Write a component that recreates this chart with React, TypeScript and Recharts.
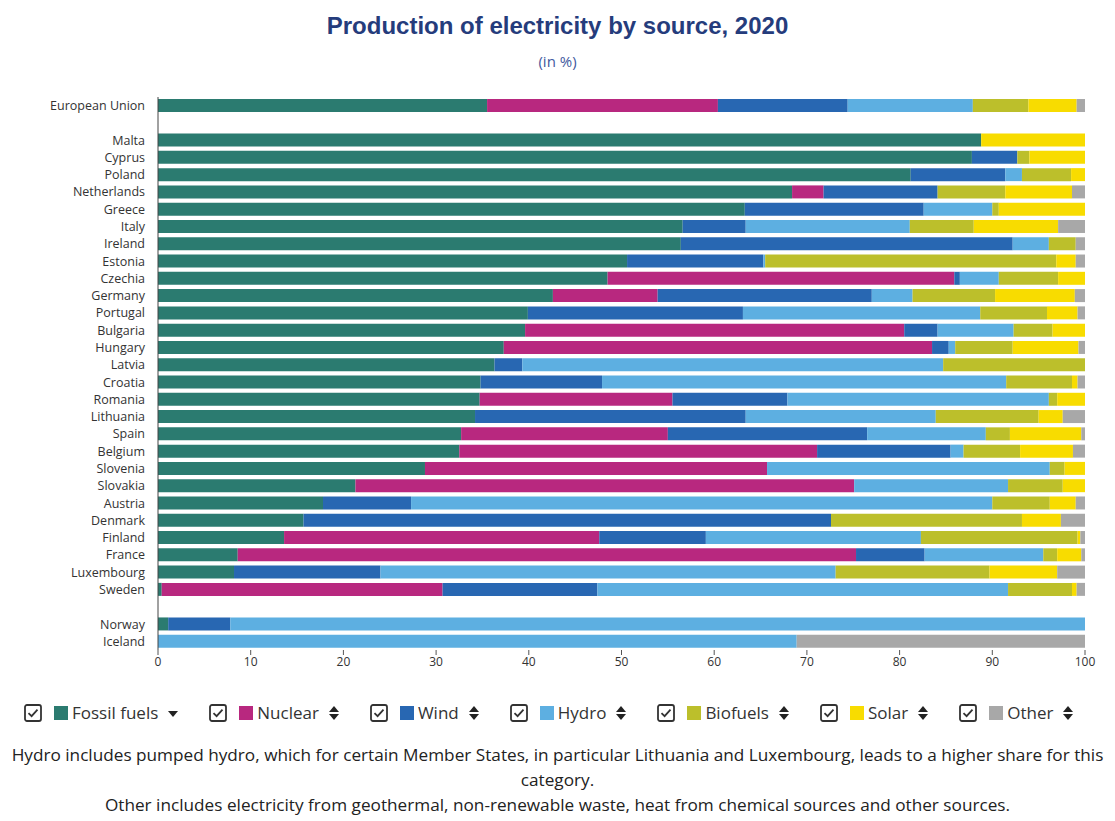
import { Bar, BarChart, XAxis, YAxis } from "recharts";

const countries = [
  "European Union", "", "Malta", "Cyprus", "Poland", "Netherlands", "Greece", "Italy",
  "Ireland", "Estonia", "Czechia", "Germany", "Portugal", "Bulgaria", "Hungary", "Latvia",
  "Croatia", "Romania", "Lithuania", "Spain", "Belgium", "Slovenia", "Slovakia", "Austria",
  "Denmark", "Finland", "France", "Luxembourg", "Sweden", " ", "Norway", "Iceland",
];

// shares in %, same order as countries (null = spacer row)
const fossil = [35.5, null, 88.8, 87.8, 81.2, 68.4, 63.3, 56.6, 56.4, 50.6, 48.5, 42.6, 39.9, 39.6, 37.3, 36.3, 34.8, 34.7, 34.2, 32.7, 32.5, 28.8, 21.3, 17.8, 15.7, 13.6, 8.6, 8.2, 0.4, null, 1.1, 0];
const nuclear = [24.9, null, 0, 0, 0, 3.4, 0, 0, 0, 0, 37.4, 11.3, 0, 40.9, 46.2, 0, 0, 20.8, 0, 22.3, 38.6, 36.9, 53.8, 0, 0, 34.0, 66.7, 0, 30.3, null, 0, 0];
const wind = [14.0, null, 0, 4.9, 10.2, 12.3, 19.3, 6.8, 35.8, 14.7, 0.6, 23.1, 23.2, 3.6, 1.8, 3.0, 13.1, 12.4, 29.2, 21.5, 14.4, 0, 0, 9.5, 56.9, 11.5, 7.4, 15.8, 16.7, null, 6.7, 0];
const hydro = [13.5, null, 0, 0, 1.8, 0, 7.4, 17.7, 3.9, 0.2, 4.2, 4.4, 25.6, 8.2, 0.7, 45.4, 43.6, 28.2, 20.5, 12.8, 1.4, 30.5, 16.6, 62.7, 0, 23.2, 12.8, 49.1, 44.3, null, 92.2, 68.9];
const biofuels = [6.0, null, 0, 1.3, 5.3, 7.3, 0.7, 6.9, 2.9, 31.4, 6.4, 8.9, 7.2, 4.2, 6.2, 15.3, 7.1, 0.9, 11.1, 2.6, 6.1, 1.6, 5.9, 6.2, 20.6, 16.9, 1.5, 16.6, 6.9, null, 0, 0];
const solar = [5.2, null, 11.2, 6.0, 1.5, 7.2, 9.3, 9.1, 0, 2.1, 2.9, 8.6, 3.3, 3.5, 7.1, 0, 0.6, 3.0, 2.6, 7.7, 5.7, 2.2, 2.4, 2.8, 4.2, 0.3, 2.6, 7.3, 0.5, null, 0, 0];
const other = [0.9, null, 0, 0, 0, 1.4, 0, 2.9, 1.0, 1.0, 0, 1.1, 0.8, 0, 0.7, 0, 0.8, 0, 2.4, 0.4, 1.3, 0, 0, 1.0, 2.6, 0.5, 0.4, 3.0, 0.9, null, 0, 31.1];

const xTicks = [0, 10, 20, 30, 40, 50, 60, 70, 80, 90, 100];

const series = [
  { key: "fossil", name: "Fossil fuels", color: "#2b7b70", values: fossil },
  { key: "nuclear", name: "Nuclear", color: "#b8287f", values: nuclear },
  { key: "wind", name: "Wind", color: "#2867b2", values: wind },
  { key: "hydro", name: "Hydro", color: "#5dafe1", values: hydro },
  { key: "biofuels", name: "Biofuels", color: "#bcbf2b", values: biofuels },
  { key: "solar", name: "Solar", color: "#f8dc00", values: solar },
  { key: "other", name: "Other", color: "#a8a8a8", values: other },
];

const rows = countries.map((c, i) => {
  const row: Record<string, string | number | null> = { country: c };
  series.forEach((s) => (row[s.key] = s.values[i]));
  return row;
});

const FONT = "'Open Sans', 'DejaVu Sans', sans-serif";

function CheckBox() {
  return (
    <svg width={18} height={18} viewBox="0 0 18 18" style={{ display: "block" }}>
      <rect x={1} y={1} width={16} height={16} rx={2} fill="#fff" stroke="#333" strokeWidth={1.8} />
      <path d="M4.5 9.2 L7.6 12.2 L13.5 5.6" fill="none" stroke="#333" strokeWidth={1.8} />
    </svg>
  );
}

function SortIcon({ down }: { down?: boolean }) {
  return (
    <svg width={10} height={16} viewBox="0 0 10 16" style={{ display: "block" }}>
      {down ? (
        <path d="M0 6 L10 6 L5 12 Z" fill="#222" />
      ) : (
        <>
          <path d="M0 7 L10 7 L5 1 Z" fill="#222" />
          <path d="M0 9 L10 9 L5 15 Z" fill="#222" />
        </>
      )}
    </svg>
  );
}

function LegendRow() {
  return (
    <div
      style={{
        position: "absolute",
        top: 701,
        left: 24,
        display: "flex",
        alignItems: "center",
        fontFamily: FONT,
        fontSize: 17,
        color: "#333",
      }}
    >
      {series.map((s, i) => (
        <div key={s.key} style={{ display: "flex", alignItems: "center", marginRight: 31 }}>
          <CheckBox />
          <span style={{ width: 14, height: 14, background: s.color, marginLeft: 12, marginRight: 4 }} />
          <span>{s.name}</span>
          <span style={{ marginLeft: 10 }}>
            <SortIcon down={i === 0} />
          </span>
        </div>
      ))}
    </div>
  );
}

export default function App() {
  return (
    <div style={{ position: "absolute", left: 0, top: 0, width: 1115, height: 821, background: "#fff" }}>
      <div
        style={{
          position: "absolute",
          top: 12,
          width: 1115,
          textAlign: "center",
          fontFamily: "'Liberation Sans', Arial, sans-serif",
          fontWeight: 700,
          fontSize: 24,
          color: "#253c7c",
        }}
      >
        Production of electricity by source, 2020
      </div>
      <div
        style={{
          position: "absolute",
          top: 51,
          width: 1115,
          textAlign: "center",
          fontFamily: FONT,
          fontSize: 15,
          color: "#3f5aa0",
        }}
      >
        (in %)
      </div>

      <div style={{ position: "absolute", top: 0, left: 0 }}>
        <BarChart
          width={1115}
          height={682}
          data={rows}
          layout="vertical"
          margin={{ top: 97, right: 30, bottom: 0, left: 0 }}
          barSize={13}
        >
          <XAxis
            type="number"
            domain={[0, 100]}
            ticks={xTicks}
            axisLine={false}
            tickLine={{ stroke: "#555" }}
            tickSize={5}
            height={32}
            tick={{ fontSize: 12, fill: "#333", fontFamily: FONT }}
          />
          <YAxis
            type="category"
            dataKey="country"
            width={158}
            interval={0}
            axisLine={{ stroke: "#444" }}
            tickLine={false}
            tickMargin={7}
            tick={{ fontSize: 12.5, fill: "#333", fontFamily: FONT }}
          />
          {series.map((s) => (
            <Bar key={s.key} dataKey={s.key} name={s.name} stackId="a" fill={s.color} isAnimationActive={false} />
          ))}
        </BarChart>
      </div>

      <LegendRow />

      <div
        style={{
          position: "absolute",
          top: 742,
          left: 0,
          width: 1115,
          textAlign: "center",
          fontFamily: FONT,
          fontSize: 17.2,
          lineHeight: "25px",
          color: "#222",
        }}
      >
        Hydro includes pumped hydro, which for certain Member States, in particular Lithuania and Luxembourg, leads to a higher share for this
        <br />
        category.
        <br />
        Other includes electricity from geothermal, non-renewable waste, heat from chemical sources and other sources.
      </div>
    </div>
  );
}
